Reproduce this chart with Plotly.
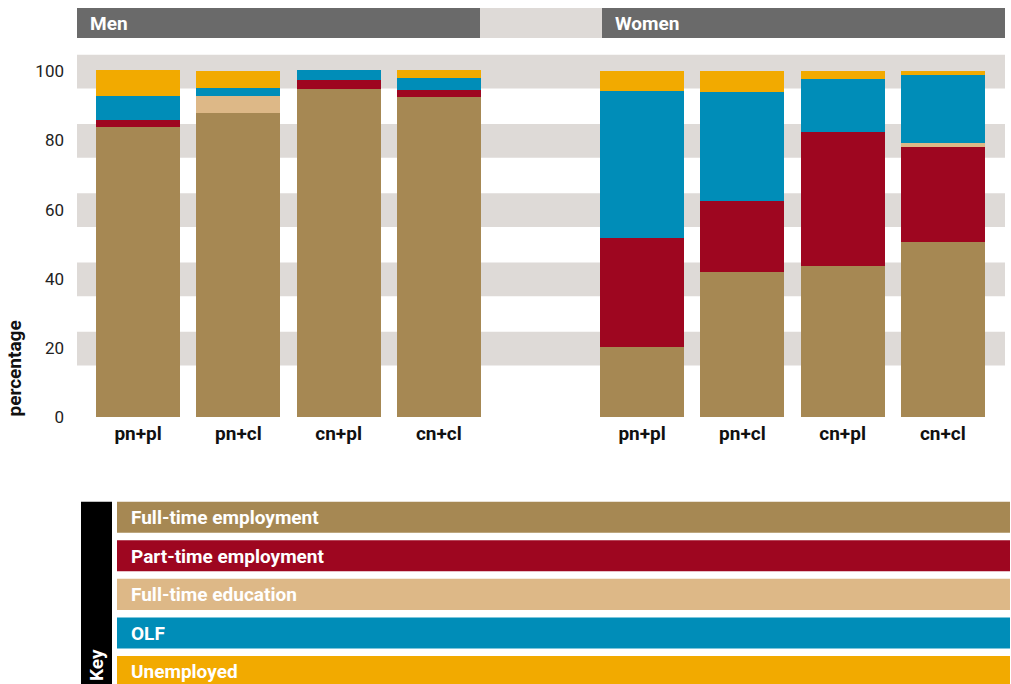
import plotly.graph_objects as go

W, H = 1011, 684
H_RENDER = 673  # effective vertical extent of the drawing in the photographed window

categories = ["pn+pl", "pn+cl", "cn+pl", "cn+cl"]
series_names = ["Full-time employment", "Part-time employment", "Full-time education", "OLF", "Unemployed"]
series_colors = ["#A68853", "#9E0620", "#DDB887", "#008DB8", "#F2AA00"]

men_full_time = [83.8, 87.9, 94.8, 92.5]
men_part_time = [2.0, 0.0, 2.6, 2.0]
men_education = [0.0, 4.9, 0.0, 0.0]
men_olf = [6.9, 2.3, 2.9, 3.5]
men_unemployed = [7.5, 4.9, 0.0, 2.3]

women_full_time = [20.2, 42.1, 43.6, 50.5]
women_part_time = [31.5, 20.3, 38.7, 27.5]
women_education = [0.0, 0.0, 0.0, 1.2]
women_olf = [42.5, 31.7, 15.4, 19.7]
women_unemployed = [5.8, 5.8, 2.3, 1.2]

y_ticks = [0, 20, 40, 60, 80, 100]
panel_titles = ["Men", "Women"]

men_series = [men_full_time, men_part_time, men_education, men_olf, men_unemployed]
women_series = [women_full_time, women_part_time, women_education, women_olf, women_unemployed]

FONT = "Roboto"

def px(x):
    return x / W

def py(y):
    return 1 - y / H_RENDER

fig = go.Figure()
for name, color, vals in zip(series_names, series_colors, men_series):
    fig.add_trace(go.Bar(x=categories, y=vals, name=name, marker=dict(color=color, line=dict(width=0)),
                         xaxis="x", yaxis="y", showlegend=False))
for name, color, vals in zip(series_names, series_colors, women_series):
    fig.add_trace(go.Bar(x=categories, y=vals, name=name, marker=dict(color=color, line=dict(width=0)),
                         xaxis="x2", yaxis="y", showlegend=False))

shapes = []
annotations = []

# horizontal bands
for t in y_ticks[1:]:
    shapes.append(dict(type="rect", xref="paper", yref="y", x0=px(77), x1=px(1005), y0=t - 5, y1=t + 4.7,
                       fillcolor="#DEDAD7", line=dict(width=0), layer="below"))

# header row
shapes.append(dict(type="rect", xref="paper", yref="paper", x0=px(77), x1=px(1005), y0=py(38), y1=py(8),
                   fillcolor="#DEDAD7", line=dict(width=0), layer="below"))
for title, (x0, x1) in zip(panel_titles, [(77, 480), (602, 1005)]):
    shapes.append(dict(type="rect", xref="paper", yref="paper", x0=px(x0), x1=px(x1), y0=py(38), y1=py(8),
                       fillcolor="#6A6A6A", line=dict(width=0), layer="below"))
    annotations.append(dict(text=title, xref="paper", yref="paper", x=px(x0 + 11), y=py(23), xanchor="left",
                            yanchor="middle", showarrow=False,
                            font=dict(family=FONT, size=19, color="white", weight="bold")))

# y axis title
annotations.append(dict(text="percentage", xref="paper", yref="paper", x=px(15), y=py(368), textangle=-90,
                        showarrow=False, xanchor="center", yanchor="middle",
                        font=dict(family=FONT, size=19, color="#111111", weight="bold")))

# key
shapes.append(dict(type="rect", xref="paper", yref="paper", x0=px(81), x1=px(112), y0=-0.05, y1=py(501),
                   fillcolor="#000000", line=dict(width=0)))
annotations.append(dict(text="Key", xref="paper", yref="paper", x=px(97), y=py(664), textangle=-90,
                        showarrow=False, xanchor="center", yanchor="middle",
                        font=dict(family=FONT, size=19, color="white", weight="bold")))
for i, (name, color) in enumerate(zip(series_names, series_colors)):
    top = 501 + i * 38.5
    shapes.append(dict(type="rect", xref="paper", yref="paper", x0=px(117), x1=px(1010), y0=py(top + 31),
                       y1=py(top), fillcolor=color, line=dict(width=0)))
    annotations.append(dict(text=name, xref="paper", yref="paper", x=px(129), y=py(top + 16), xanchor="left",
                            yanchor="middle", showarrow=False,
                            font=dict(family=FONT, size=19, color="white", weight="bold")))

y0_px = 416.7
y_top = 105
top_px = y0_px - y_top * 3.457

xaxis_common = dict(showgrid=False, zeroline=False, showline=False, ticks="", anchor="y",
                    tickfont=dict(family=FONT, size=19, color="#111111", weight="bold"),
                    ticklabelstandoff=3, fixedrange=True)

fig.update_layout(
    width=W, height=H, autosize=False,
    margin=dict(l=0, r=0, t=0, b=0, pad=0),
    paper_bgcolor="white", plot_bgcolor="rgba(0,0,0,0)",
    barmode="stack", bargap=0.163,
    xaxis=dict(domain=[px(88), px(489)], **xaxis_common),
    xaxis2=dict(domain=[px(592), px(993)], **xaxis_common),
    yaxis=dict(domain=[py(y0_px), py(top_px)], range=[0, y_top], tickvals=y_ticks, fixedrange=True,
               showgrid=False, zeroline=False, showline=False, ticks="",
               tickfont=dict(family=FONT, size=17, color="#222222"), ticklabelstandoff=23),
    shapes=shapes,
    annotations=annotations,
    showlegend=False,
)

fig.write_html("out.html", config={"responsive": False, "displayModeBar": False, "staticPlot": True},
               post_script="document.body.style.margin='0';document.body.style.overflow='hidden';")
